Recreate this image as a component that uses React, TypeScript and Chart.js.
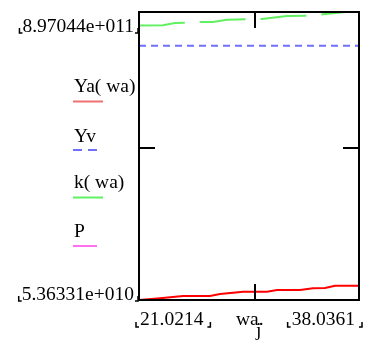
import { useEffect, useRef } from 'react';
import { Chart, registerables } from 'chart.js';

Chart.register(...registerables);

// ---- data ----
const xMin = 21.0214;
const xMax = 38.0361;
const yMin = 5.36331e10;
const yMax = 8.97044e11;
const xTickValue = 30;
const yTickValue = 5e11;
const xMinLabel = '21.0214';
const xMaxLabel = '38.0361';
const yMinLabel = '5.36331e+010';
const yMaxLabel = '8.97044e+011';
const xAxisName = 'wa';
const xAxisSub = 'j';

const yaX = [21.0214, 22.645, 24.424, 26.512, 27.286, 28.291, 29.064, 30.921, 31.694, 33.473, 34.478, 35.407, 36.18, 38.0361];
const yaY = [53.6e9, 58.6e9, 65.4e9, 65.4e9, 71.2e9, 75.0e9, 77.9e9, 77.9e9, 82.9e9, 82.9e9, 87.9e9, 88.8e9, 95.5e9, 95.5e9];

const kX = [21.0214, 22.877, 23.805, 24.579, 25.739, 26.744, 27.827, 29.374, 30.534, 32.467, 34.092, 35.252, 36.799, 38.0361];
const kY = [857.5e9, 858.1e9, 864.9e9, 865.4e9, 867.8e9, 867.8e9, 874.5e9, 875.7e9, 876.5e9, 885.3e9, 886.2e9, 890.3e9, 896.4e9, 901.4e9];

const yvValue = 798.4e9;

const legendLabels = ['Ya( wa)', 'Yv', 'k( wa)', 'P'];
const legendColors = ['#f07070', '#7070ff', '#60f060', '#ff70ee'];

const FONT = '19.5px "Liberation Serif", "Times New Roman", serif';

function drawBracketL(ctx: CanvasRenderingContext2D, x: number, y: number) {
  ctx.beginPath();
  ctx.moveTo(x, y - 5);
  ctx.lineTo(x, y);
  ctx.lineTo(x + 3, y);
  ctx.stroke();
}
function drawBracketR(ctx: CanvasRenderingContext2D, x: number, y: number) {
  ctx.beginPath();
  ctx.moveTo(x - 3, y);
  ctx.lineTo(x, y);
  ctx.lineTo(x, y - 5);
  ctx.stroke();
}

const decorPlugin = {
  id: 'mathcadDecor',
  afterDatasetsDraw(chart: any) {
    const { ctx, chartArea, scales } = chart;
    const { left, right, top, bottom } = chartArea;
    ctx.save();
    // box
    ctx.strokeStyle = '#000';
    ctx.lineWidth = 2;
    ctx.setLineDash([]);
    ctx.strokeRect(left, top, right - left, bottom - top);
    // inner ticks
    const tx = Math.round(scales.x.getPixelForValue(xTickValue));
    const ty = Math.round(scales.y.getPixelForValue(yTickValue));
    const tl = 16;
    ctx.beginPath();
    ctx.moveTo(tx, top); ctx.lineTo(tx, top + tl);
    ctx.moveTo(tx, bottom); ctx.lineTo(tx, bottom - tl);
    ctx.moveTo(left, ty); ctx.lineTo(left + tl, ty);
    ctx.moveTo(right, ty); ctx.lineTo(right - tl, ty);
    ctx.stroke();

    // text
    ctx.fillStyle = '#000';
    ctx.font = FONT;
    ctx.textBaseline = 'alphabetic';
    ctx.lineWidth = 1.5;

    // y labels
    ctx.textAlign = 'right';
    const yTextRight = left - 5;
    ctx.fillText(yMaxLabel, yTextRight, top + 20);
    let w = ctx.measureText(yMaxLabel).width;
    drawBracketL(ctx, yTextRight - w - 3, top + 21);
    drawBracketR(ctx, left - 1, top + 21);

    ctx.fillText(yMinLabel, yTextRight, bottom);
    w = ctx.measureText(yMinLabel).width;
    drawBracketL(ctx, yTextRight - w - 3, bottom + 1);
    drawBracketR(ctx, left - 1, bottom + 1);

    // x labels
    ctx.textAlign = 'left';
    const xlY = bottom + 25;
    ctx.fillText(xMinLabel, left + 1, xlY);
    w = ctx.measureText(xMinLabel).width;
    drawBracketL(ctx, left - 3, xlY + 2);
    drawBracketR(ctx, left + 1 + w + 7, xlY + 2);

    ctx.textAlign = 'right';
    ctx.fillText(xMaxLabel, right - 4, xlY);
    w = ctx.measureText(xMaxLabel).width;
    drawBracketL(ctx, right - 4 - w - 4, xlY + 2);
    drawBracketR(ctx, right + 3, xlY + 2);

    ctx.textAlign = 'left';
    ctx.fillText(xAxisName + '.', 236, xlY);
    ctx.fillText(xAxisSub, 256, xlY + 11);

    // legend
    const legY = [92, 142, 188, 237];
    const legLineY = [101.5, 150, 197.5, 246];
    const legLineW = [30, 24, 30, 24];
    legendLabels.forEach((lab, i) => {
      ctx.fillStyle = '#000';
      ctx.fillText(lab, 74, legY[i]);
      ctx.strokeStyle = legendColors[i];
      ctx.lineWidth = 2;
      ctx.setLineDash(i === 1 ? [9, 6] : []);
      ctx.beginPath();
      ctx.moveTo(73, legLineY[i]);
      ctx.lineTo(73 + legLineW[i], legLineY[i]);
      ctx.stroke();
    });
    ctx.restore();
  },
};

export default function App() {
  const ref = useRef<HTMLCanvasElement | null>(null);
  useEffect(() => {
    if (!ref.current) return;
    const chart = new Chart(ref.current, {
      type: 'line',
      data: {
        datasets: [
          {
            label: legendLabels[0],
            data: yaX.map((x, i) => ({ x, y: yaY[i] })),
            borderColor: '#ff0000',
            borderWidth: 2,
            pointRadius: 0,
            tension: 0,
          },
          {
            label: legendLabels[1],
            data: [{ x: xMin, y: yvValue }, { x: xMax, y: yvValue }],
            borderColor: '#7070ff',
            borderWidth: 2,
            borderDash: [7, 5],
            pointRadius: 0,
          },
          {
            label: legendLabels[2],
            data: kX.map((x, i) => ({ x, y: kY[i] })),
            borderColor: '#60f060',
            borderWidth: 2,
            borderDash: [46, 15],
            pointRadius: 0,
            tension: 0,
          },
          {
            label: legendLabels[3],
            data: [],
            borderColor: '#ff70ee',
            borderWidth: 2,
            pointRadius: 0,
          },
        ],
      },
      options: {
        responsive: false,
        animation: false,
        layout: { padding: { left: 139, top: 12, right: 14, bottom: 43 } },
        plugins: { legend: { display: false }, tooltip: { enabled: false } },
        scales: {
          x: { type: 'linear', min: xMin, max: xMax, display: false },
          y: { type: 'linear', min: yMin, max: yMax, display: false },
        },
      },
      plugins: [decorPlugin],
    } as any);
    return () => chart.destroy();
  }, []);
  return (
    <div style={{ position: 'absolute', left: 0, top: 0, width: 373, height: 343, background: '#fff' }}>
      <canvas ref={ref} width={373} height={343} style={{ display: 'block' }} />
    </div>
  );
}
